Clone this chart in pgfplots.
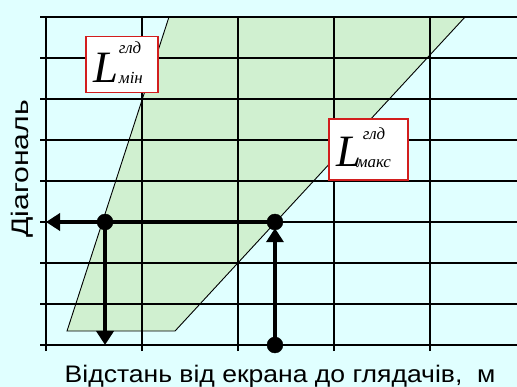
\documentclass[border=0pt]{standalone}
\usepackage{fontspec}
\setmainfont{Liberation Sans}
\newfontfamily\xlabelfont{Liberation Sans}[FakeStretch=1.11]
\newfontfamily\ylabelfont{Liberation Sans}[FakeStretch=1.26]
\newfontfamily\serifit{Liberation Serif}[UprightFont=*-Italic]
\usepackage{pgfplots}
\pgfplotsset{compat=1.18}
\usetikzlibrary{arrows.meta}

\definecolor{bgcyan}{RGB}{224,255,255}
\definecolor{zone}{RGB}{208,240,208}
\definecolor{boxred}{RGB}{210,30,30}
\tikzset{gridline/.style={line width=2.2bp, black}}

\begin{document}
\begin{tikzpicture}
\fill[bgcyan] (-46bp,-42bp) rectangle (471bp,345bp);
\useasboundingbox (-46bp,-42bp) rectangle (471bp,345bp);
\begin{axis}[
  scale only axis,
  width=471bp, height=328bp,
  xmin=0, xmax=4.90625,
  ymin=0, ymax=8,
  xtick={0,1,2,3,4},
  ytick={0,1,2,3,4,5,6,7,8},
  xticklabels={}, yticklabels={},
  axis x line*=bottom,
  axis y line*=left,
  axis line style={-, line width=2.2bp, black},
  tick align=outside,
  major tick length=6bp,
  tick style={line width=2.2bp, black},
  clip=false,
  xlabel={Відстань від екрана до глядачів,\ \ м},
  ylabel={Діагональ},
  xlabel style={font=\xlabelfont\fontsize{24}{28}\selectfont,
                at={(axis description cs:0.497,-0.113)}, anchor=base},
  ylabel style={font=\ylabelfont\fontsize{24}{28}\selectfont,
                at={(axis description cs:-0.051,0.537)}, anchor=center},
]

% admissible zone between L min and L max
\addplot[fill=zone, draw=black, line width=0.9bp]
  coordinates {(0.219,0.341) (1.344,0.341) (4.365,8) (1.281,8)} -- cycle;

% grid, one path per line, over the zone
\pgfplotsinvokeforeach{1,2,3,4,5,6,7,8}{
  \draw[gridline] (axis cs:0,#1) -- (axis cs:4.90625,#1);
}
\pgfplotsinvokeforeach{1,2,3,4}{
  \draw[gridline] (axis cs:#1,0) -- (axis cs:#1,8);
}

% reading path
\addplot[line width=4.5bp, -{Triangle[length=14bp,width=17bp]}]
  coordinates {(2.385,3) (0,3)};
\addplot[line width=4.5bp, -{Triangle[length=14bp,width=17bp]}]
  coordinates {(0.615,3) (0.615,0)};
\addplot[line width=4.5bp, -{Triangle[length=14bp,width=17bp]}]
  coordinates {(2.385,0) (2.385,2.85)};
\addplot[only marks, mark=*, mark size=8bp, black]
  coordinates {(0.615,3) (2.385,3) (2.385,0)};

\node[draw=boxred, fill=white, line width=1.2bp, inner sep=0pt,
      text height=46bp, text depth=10bp]
  at (axis cs:0.792,6.85) {\makebox[72bp][l]{\serifit\kern7bp%
    {\fontsize{45}{45}\selectfont L}\kern1bp%
    \rlap{\raisebox{29bp}{\fontsize{17}{17}\selectfont глд}}%
    \raisebox{-1bp}{\fontsize{17}{17}\selectfont мін}}};
\node[draw=boxred, fill=white, line width=1.2bp, inner sep=0pt,
      text height=48bp, text depth=13bp]
  at (axis cs:3.359,4.77) {\makebox[79bp][l]{\serifit\kern8bp%
    {\fontsize{45}{45}\selectfont L}\kern-5bp%
    \rlap{\kern6bp\raisebox{27bp}{\fontsize{17}{17}\selectfont глд}}%
    \raisebox{-1bp}{\fontsize{17}{17}\selectfont макс}}};
\end{axis}
\end{tikzpicture}
\end{document}
